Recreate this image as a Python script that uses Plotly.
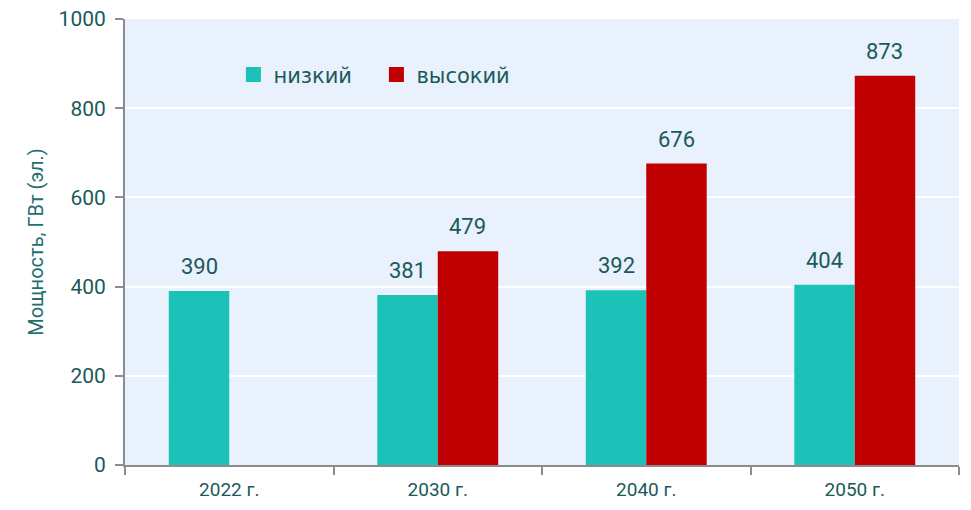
import plotly.graph_objects as go

categories = ["2022 г.", "2030 г.", "2040 г.", "2050 г."]
low_values = [390, 381, 392, 404]
high_values = [None, 479, 676, 873]
y_ticks = [0, 200, 400, 600, 800, 1000]
series_names = ["низкий", "высокий"]
series_colors = ["#1CC2B8", "#C00000"]

text_color = "#1B5A5A"

fig = go.Figure()
for vals, name, col in zip([low_values, high_values], series_names, series_colors):
    fig.add_trace(go.Bar(
        x=categories, y=vals, name=name, showlegend=False,
        marker=dict(color=col, line=dict(width=0)),
    ))
# legend entries with larger square symbols
for name, col in zip(series_names, series_colors):
    fig.add_trace(go.Scatter(
        x=[None], y=[None], mode="markers", name=name,
        marker=dict(symbol="square", size=15, color=col),
    ))

# value labels above bars
for vals, shift in zip([low_values, high_values], [-30, 30]):
    for c, v in zip(categories, vals):
        if v is None:
            continue
        fig.add_annotation(
            x=c, y=v, text=str(v), showarrow=False,
            xshift=shift, yshift=10, yanchor="bottom",
            font=dict(size=22, color=text_color, family="Roboto"),
        )

fig.update_layout(
    width=955, height=494,
    margin=dict(l=117, r=4, t=11, b=37, autoexpand=False),
    paper_bgcolor="white",
    plot_bgcolor="#E8F1FC",
    barmode="group",
    bargap=0.42, bargroupgap=0,
    font=dict(family="Roboto", color=text_color),
    legend=dict(
        orientation="h", x=0.13, y=0.875, xanchor="left", yanchor="middle",
        bgcolor="rgba(0,0,0,0)",
        font=dict(family="DejaVu Sans", size=21, color=text_color),
        itemwidth=30, traceorder="normal", tracegroupgap=0,
        entrywidth=98, entrywidthmode="pixels",
    ),
    showlegend=True,
)
fig.update_xaxes(
    showline=True, linecolor="#8C8C8C", linewidth=2,
    ticks="outside", tickson="boundaries", ticklen=8, tickcolor="#8C8C8C", tickwidth=2,
    tickfont=dict(size=19, color=text_color, family="Roboto"),
    ticklabelstandoff=6,
    showgrid=False,
)
fig.update_yaxes(
    range=[0, 1000], tickvals=y_ticks,
    showline=True, linecolor="#8C8C8C", linewidth=2,
    ticks="outside", ticklen=8, tickcolor="#8C8C8C", tickwidth=2,
    tickfont=dict(size=21, color=text_color, family="Roboto"),
    ticklabelstandoff=5, ticklabeloverflow="allow",
    showgrid=True, gridcolor="white", gridwidth=2,
    zeroline=False,
    title=dict(text="Мощность, ГВт (эл.)", font=dict(size=20, color="#1F6F6F", family="Roboto"), standoff=10),
)

fig.write_html("out.html")
